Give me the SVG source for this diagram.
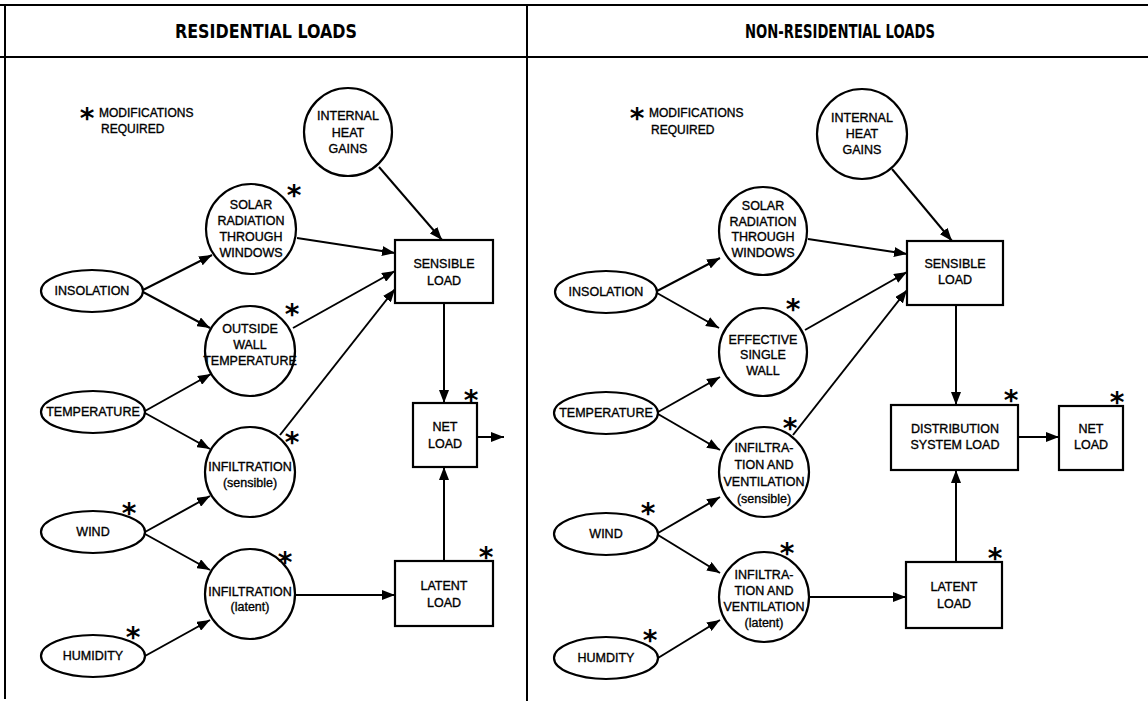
<svg xmlns="http://www.w3.org/2000/svg" width="1148" height="701" viewBox="0 0 1148 701">
  <style>
    .frame { stroke: #000; stroke-width: 2; fill: none; }
    .shape { stroke: #000; stroke-width: 2.2; fill: #fff; }
    .edge { stroke: #000; stroke-width: 2; fill: none; marker-end: url(#arrow); }
    .t { font-family: "Liberation Sans", Arial, sans-serif; font-size: 12.5px; fill: #000; stroke: #000; stroke-width: 0.35; text-anchor: middle; dominant-baseline: central; }
    .lg { font-family: "Liberation Sans", Arial, sans-serif; font-size: 12px; fill: #000; stroke: #000; stroke-width: 0.35; dominant-baseline: central; }
    .hd { font-family: "DejaVu Sans Condensed", "Liberation Sans", sans-serif; font-weight: bold; font-size: 20px; fill: #000; text-anchor: middle; dominant-baseline: central; }
    .ast { font-family: "DejaVu Sans", sans-serif; font-weight: bold; font-size: 28px; fill: #000; text-anchor: middle; }
  </style>
  <defs>
    <marker id="arrow" markerUnits="userSpaceOnUse" markerWidth="13" markerHeight="10" refX="13" refY="5" orient="auto">
      <path d="M0,0 L13,5 L0,10 z" fill="#000"/>
    </marker>
  </defs>

  <rect width="1148" height="701" fill="#fff"/>

  <!-- panel frame -->
  <g id="frame">
    <line class="frame" x1="0" y1="5" x2="1148" y2="5"/>
    <line class="frame" x1="0" y1="57" x2="1148" y2="57"/>
    <line class="frame" x1="5" y1="5" x2="5" y2="699"/>
    <line class="frame" x1="527" y1="5" x2="527" y2="701"/>
    <text class="hd" x="266" y="31" textLength="182" lengthAdjust="spacingAndGlyphs">RESIDENTIAL LOADS</text>
    <text class="hd" x="840" y="31" textLength="190" lengthAdjust="spacingAndGlyphs">NON-RESIDENTIAL LOADS</text>
  </g>

  <!-- connectors -->
  <g id="connectors">
    <!-- residential -->
    <line class="edge" x1="379" y1="167" x2="442" y2="240"/>
    <line class="edge" x1="297" y1="238" x2="395" y2="253"/>
    <line class="edge" x1="293" y1="328" x2="395" y2="271"/>
    <line class="edge" x1="280" y1="435" x2="395" y2="289"/>
    <line class="edge" x1="296" y1="595" x2="395" y2="595"/>
    <line class="edge" x1="143" y1="290" x2="212" y2="255"/>
    <line class="edge" x1="143" y1="292" x2="210" y2="328"/>
    <line class="edge" x1="145" y1="411" x2="211" y2="374"/>
    <line class="edge" x1="145" y1="413" x2="210" y2="449"/>
    <line class="edge" x1="145" y1="532" x2="210" y2="496"/>
    <line class="edge" x1="145" y1="534" x2="210" y2="570"/>
    <line class="edge" x1="145" y1="656" x2="210" y2="620"/>
    <line class="edge" x1="444" y1="303" x2="444" y2="403"/>
    <line class="edge" x1="444" y1="561" x2="444" y2="467"/>
    <line class="edge" x1="477" y1="437" x2="504" y2="437"/>
    <!-- non-residential -->
    <line class="edge" x1="892" y1="169" x2="952" y2="241"/>
    <line class="edge" x1="808" y1="239" x2="907" y2="254"/>
    <line class="edge" x1="805" y1="330" x2="907" y2="272"/>
    <line class="edge" x1="793" y1="435" x2="907" y2="290"/>
    <line class="edge" x1="809" y1="597" x2="906" y2="597"/>
    <line class="edge" x1="657" y1="291" x2="720" y2="258"/>
    <line class="edge" x1="657" y1="293" x2="719" y2="328"/>
    <line class="edge" x1="658" y1="412" x2="720" y2="377"/>
    <line class="edge" x1="658" y1="414" x2="720" y2="450"/>
    <line class="edge" x1="658" y1="533" x2="720" y2="497"/>
    <line class="edge" x1="658" y1="535" x2="720" y2="573"/>
    <line class="edge" x1="658" y1="658" x2="720" y2="620"/>
    <line class="edge" x1="956" y1="305" x2="956" y2="405"/>
    <line class="edge" x1="956" y1="562" x2="956" y2="470"/>
    <line class="edge" x1="1018" y1="437" x2="1059" y2="437"/>
  </g>

  <!-- ===== residential nodes ===== -->
  <g id="r-legend">
    <text class="ast" x="87" y="128">*</text>
    <text class="lg" x="99" y="113">MODIFICATIONS</text>
    <text class="lg" x="101" y="129">REQUIRED</text>
  </g>
  <g id="r-internal">
    <circle class="shape" cx="348" cy="132" r="44"/>
    <text class="t" x="348" y="116">INTERNAL</text>
    <text class="t" x="348" y="133">HEAT</text>
    <text class="t" x="348" y="149">GAINS</text>
  </g>
  <g id="r-solar">
    <circle class="shape" cx="251" cy="229" r="45"/>
    <text class="t" x="251" y="205">SOLAR</text>
    <text class="t" x="251" y="221">RADIATION</text>
    <text class="t" x="251" y="237">THROUGH</text>
    <text class="t" x="251" y="253">WINDOWS</text>
    <text class="ast" x="294" y="205">*</text>
  </g>
  <g id="r-insolation">
    <ellipse class="shape" cx="92" cy="291" rx="51" ry="21"/>
    <text class="t" x="92" y="291">INSOLATION</text>
  </g>
  <g id="r-wall">
    <circle class="shape" cx="250" cy="351" r="45"/>
    <text class="t" x="250" y="329">OUTSIDE</text>
    <text class="t" x="250" y="345">WALL</text>
    <text class="t" x="250" y="361">TEMPERATURE</text>
    <text class="ast" x="292" y="324">*</text>
  </g>
  <g id="r-temperature">
    <ellipse class="shape" cx="93" cy="412" rx="52" ry="21"/>
    <text class="t" x="93" y="412">TEMPERATURE</text>
  </g>
  <g id="r-infil-sensible">
    <circle class="shape" cx="250" cy="472" r="45"/>
    <text class="t" x="250" y="467">INFILTRATION</text>
    <text class="t" x="250" y="483">(sensible)</text>
    <text class="ast" x="292" y="452">*</text>
  </g>
  <g id="r-wind">
    <ellipse class="shape" cx="93" cy="532" rx="52" ry="21"/>
    <text class="t" x="93" y="532">WIND</text>
    <text class="ast" x="129" y="523">*</text>
  </g>
  <g id="r-infil-latent">
    <circle class="shape" cx="250" cy="594" r="45"/>
    <text class="t" x="250" y="592">INFILTRATION</text>
    <text class="t" x="250" y="607">(latent)</text>
    <text class="ast" x="285" y="572">*</text>
  </g>
  <g id="r-humidity">
    <ellipse class="shape" cx="93" cy="656" rx="52" ry="21"/>
    <text class="t" x="93" y="656">HUMIDITY</text>
    <text class="ast" x="133" y="647">*</text>
  </g>
  <g id="r-sensible">
    <rect class="shape" x="395" y="240" width="98" height="63"/>
    <text class="t" x="444" y="264">SENSIBLE</text>
    <text class="t" x="444" y="281">LOAD</text>
  </g>
  <g id="r-net">
    <rect class="shape" x="413" y="403" width="64" height="64"/>
    <text class="t" x="445" y="427">NET</text>
    <text class="t" x="445" y="444">LOAD</text>
    <text class="ast" x="471" y="410">*</text>
  </g>
  <g id="r-latent">
    <rect class="shape" x="395" y="561" width="98" height="65"/>
    <text class="t" x="444" y="586">LATENT</text>
    <text class="t" x="444" y="603">LOAD</text>
    <text class="ast" x="486" y="567">*</text>
  </g>

  <!-- ===== non-residential nodes ===== -->
  <g id="n-legend">
    <text class="ast" x="637" y="128">*</text>
    <text class="lg" x="649" y="113">MODIFICATIONS</text>
    <text class="lg" x="651" y="130">REQUIRED</text>
  </g>
  <g id="n-internal">
    <circle class="shape" cx="862" cy="134" r="45"/>
    <text class="t" x="862" y="118">INTERNAL</text>
    <text class="t" x="862" y="134">HEAT</text>
    <text class="t" x="862" y="150">GAINS</text>
  </g>
  <g id="n-solar">
    <circle class="shape" cx="763" cy="231" r="44"/>
    <text class="t" x="763" y="206">SOLAR</text>
    <text class="t" x="763" y="222">RADIATION</text>
    <text class="t" x="763" y="237">THROUGH</text>
    <text class="t" x="763" y="253">WINDOWS</text>
  </g>
  <g id="n-insolation">
    <ellipse class="shape" cx="606" cy="292" rx="51" ry="21"/>
    <text class="t" x="606" y="292">INSOLATION</text>
  </g>
  <g id="n-wall">
    <circle class="shape" cx="763" cy="352" r="44"/>
    <text class="t" x="763" y="340">EFFECTIVE</text>
    <text class="t" x="763" y="355">SINGLE</text>
    <text class="t" x="763" y="371">WALL</text>
    <text class="ast" x="793" y="319">*</text>
  </g>
  <g id="n-temperature">
    <ellipse class="shape" cx="606" cy="413" rx="52" ry="21"/>
    <text class="t" x="606" y="413">TEMPERATURE</text>
  </g>
  <g id="n-infil-sensible">
    <circle class="shape" cx="764" cy="472" r="45"/>
    <text class="t" x="764" y="448">INFILTRA-</text>
    <text class="t" x="764" y="465">TION  AND</text>
    <text class="t" x="764" y="482">VENTILATION</text>
    <text class="t" x="764" y="499">(sensible)</text>
    <text class="ast" x="790" y="438">*</text>
  </g>
  <g id="n-wind">
    <ellipse class="shape" cx="606" cy="534" rx="52" ry="21"/>
    <text class="t" x="606" y="534">WIND</text>
    <text class="ast" x="648" y="523">*</text>
  </g>
  <g id="n-infil-latent">
    <circle class="shape" cx="764" cy="597" r="45"/>
    <text class="t" x="764" y="575">INFILTRA-</text>
    <text class="t" x="764" y="591">TION  AND</text>
    <text class="t" x="764" y="607">VENTILATION</text>
    <text class="t" x="764" y="623">(latent)</text>
    <text class="ast" x="787" y="563">*</text>
  </g>
  <g id="n-humidity">
    <ellipse class="shape" cx="606" cy="658" rx="52" ry="21"/>
    <text class="t" x="606" y="658">HUMDITY</text>
    <text class="ast" x="650" y="650">*</text>
  </g>
  <g id="n-sensible">
    <rect class="shape" x="907" y="241" width="96" height="64"/>
    <text class="t" x="955" y="264">SENSIBLE</text>
    <text class="t" x="955" y="280">LOAD</text>
  </g>
  <g id="n-distribution">
    <rect class="shape" x="891" y="405" width="127" height="65"/>
    <text class="t" x="955" y="429">DISTRIBUTION</text>
    <text class="t" x="955" y="445">SYSTEM LOAD</text>
    <text class="ast" x="1011" y="410">*</text>
  </g>
  <g id="n-net">
    <rect class="shape" x="1059" y="406" width="64" height="64"/>
    <text class="t" x="1091" y="429">NET</text>
    <text class="t" x="1091" y="445">LOAD</text>
    <text class="ast" x="1117" y="412">*</text>
  </g>
  <g id="n-latent">
    <rect class="shape" x="906" y="562" width="96" height="66"/>
    <text class="t" x="954" y="587">LATENT</text>
    <text class="t" x="954" y="604">LOAD</text>
    <text class="ast" x="995" y="568">*</text>
  </g>
</svg>
